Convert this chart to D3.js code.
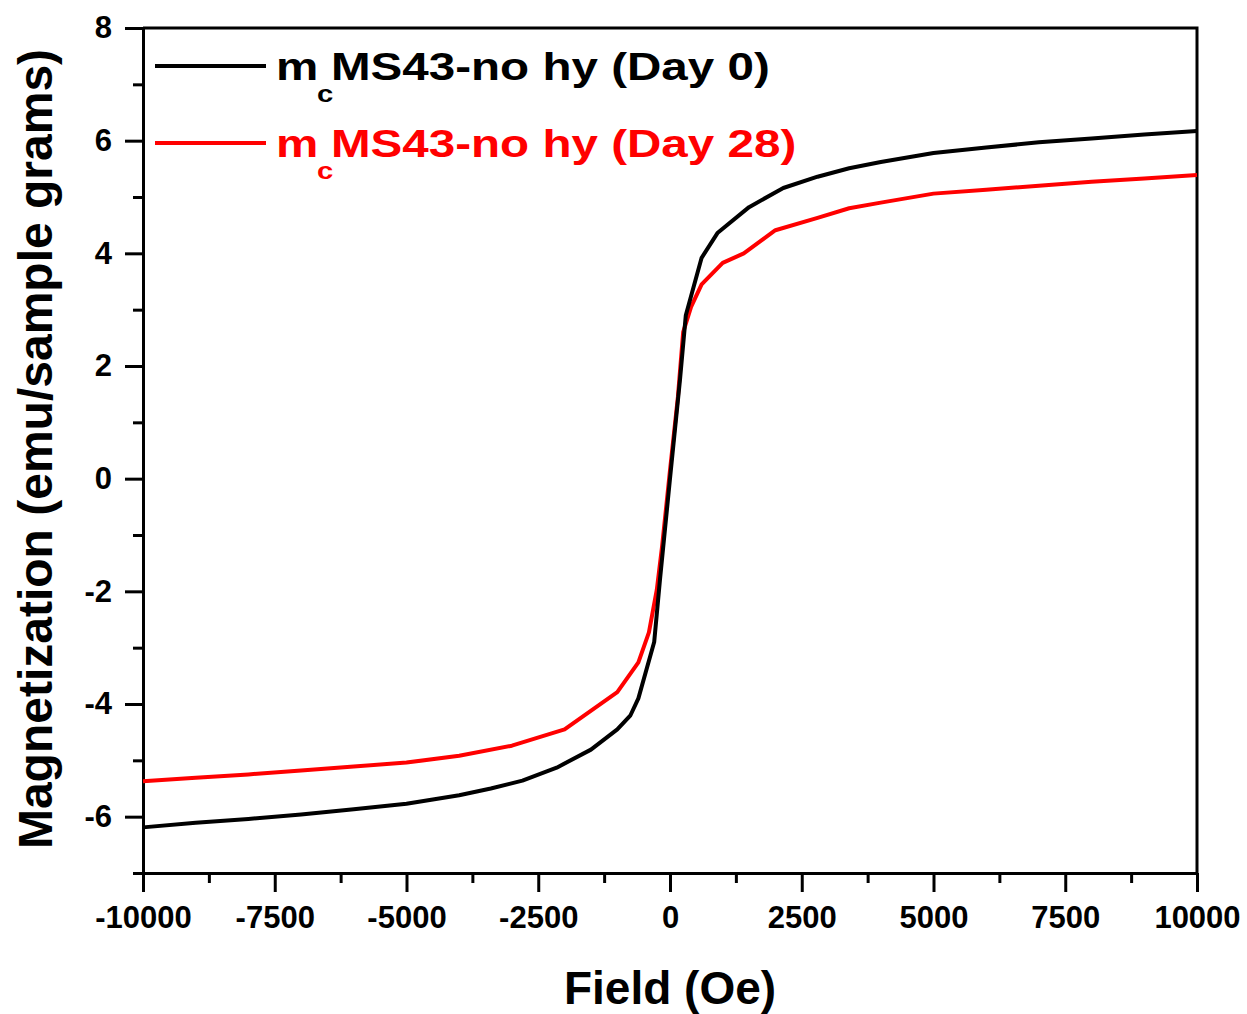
<!DOCTYPE html>
<html>
<head>
<meta charset="utf-8">
<script src="https://cdn.jsdelivr.net/npm/d3@7"></script>
<style>
  html, body { margin: 0; padding: 0; background: #fff; }
  svg { display: block; font-family: "Liberation Sans", Arial, sans-serif; font-weight: bold; }
</style>
</head>
<body>
<svg id="chart" width="1247" height="1014"></svg>
<script>
// Magnetization vs applied field (Oe)
const fieldDay0 = [-10000, -9000, -8000, -7000, -6000, -5000, -4000, -3400, -2800, -2150, -1500, -1000, -750, -600, -300, -190, 0, 190, 300, 600, 900, 1500, 2150, 2800, 3400, 4000, 5000, 6000, 7000, 8000, 9000, 10000];
const magDay0   = [-6.19, -6.11, -6.04, -5.96, -5.87, -5.77, -5.62, -5.50, -5.36, -5.13, -4.81, -4.45, -4.20, -3.90, -2.90, -1.79, 0.0, 1.76, 2.90, 3.92, 4.36, 4.82, 5.16, 5.36, 5.51, 5.62, 5.78, 5.88, 5.97, 6.04, 6.11, 6.17];

const fieldDay28 = [-10000, -9000, -8000, -7000, -6000, -5000, -4000, -3000, -2000, -1000, -600, -400, -250, -150, 0, 150, 250, 400, 600, 1000, 1400, 2000, 2800, 3400, 4000, 5000, 6000, 7000, 8000, 9000, 10000];
const magDay28   = [-5.37, -5.31, -5.25, -5.18, -5.11, -5.04, -4.92, -4.74, -4.45, -3.79, -3.26, -2.73, -1.97, -1.20, 0.15, 1.45, 2.60, 3.05, 3.45, 3.83, 4.00, 4.41, 4.63, 4.80, 4.90, 5.06, 5.13, 5.20, 5.27, 5.33, 5.39];

const xMajorTicks = [-10000, -7500, -5000, -2500, 0, 2500, 5000, 7500, 10000];
const xMinorTicks = [-8750, -6250, -3750, -1250, 1250, 3750, 6250, 8750];
const yMajorTicks = [-6, -4, -2, 0, 2, 4, 6, 8];
const yMinorTicks = [-7, -5, -3, -1, 1, 3, 5, 7];

const seriesNames = ["MS43-no hy (Day 0)", "MS43-no hy (Day 28)"];
const seriesColors = ["#000000", "#ff0000"];

const svg = d3.select("#chart");
const plotLeft = 143, plotRight = 1197, plotTop = 28, plotBottom = 873;

const x = d3.scaleLinear().domain([-10000, 10000]).range([plotLeft, plotRight]);
const y = d3.scaleLinear().domain([-7, 8]).range([plotBottom, plotTop]);

// Plain hyphen-minus for negative tick labels
const plainFormat = d => String(d);

// Frame (top and right edges)
svg.append("path")
  .attr("d", `M${plotLeft},${plotTop}H${plotRight}V${plotBottom}`)
  .attr("fill", "none").attr("stroke", "#000").attr("stroke-width", 3);

function styleAxis(g) {
  g.select(".domain").attr("stroke-width", 3);
  g.selectAll(".tick line").attr("stroke-width", 3);
  g.selectAll(".tick text")
    .attr("font-size", 31).attr("font-weight", "bold")
    .attr("font-family", "'Liberation Sans', Arial, sans-serif").attr("fill", "#000");
}

// X axis: minor then major ticks
svg.append("g").attr("transform", `translate(0,${plotBottom})`)
  .call(d3.axisBottom(x).tickValues(xMinorTicks).tickSize(10).tickFormat(""))
  .call(g => { g.select(".domain").remove(); g.selectAll(".tick line").attr("stroke-width", 3); });
svg.append("g").attr("transform", `translate(0,${plotBottom})`)
  .call(d3.axisBottom(x).tickValues(xMajorTicks).tickSize(19).tickSizeOuter(0).tickPadding(14).tickFormat(plainFormat))
  .call(styleAxis);

// Y axis: minor then major ticks
svg.append("g").attr("transform", `translate(${plotLeft},0)`)
  .call(d3.axisLeft(y).tickValues(yMinorTicks).tickSize(10).tickFormat(""))
  .call(g => { g.select(".domain").remove(); g.selectAll(".tick line").attr("stroke-width", 3); });
svg.append("g").attr("transform", `translate(${plotLeft},0)`)
  .call(d3.axisLeft(y).tickValues(yMajorTicks).tickSize(18).tickSizeOuter(0).tickPadding(13).tickFormat(plainFormat))
  .call(styleAxis);

// Curves: Day 28 underneath, Day 0 on top
const line = d3.line().x(d => x(d[0])).y(d => y(d[1]));
const day28 = fieldDay28.map((f, i) => [f, magDay28[i]]);
const day0 = fieldDay0.map((f, i) => [f, magDay0[i]]);
svg.append("path").datum(day28).attr("d", line)
  .attr("fill", "none").attr("stroke", seriesColors[1]).attr("stroke-width", 4).attr("stroke-linejoin", "round");
svg.append("path").datum(day0).attr("d", line)
  .attr("fill", "none").attr("stroke", seriesColors[0]).attr("stroke-width", 4).attr("stroke-linejoin", "round");

// Axis titles
svg.append("text")
  .attr("x", 670).attr("y", 1004).attr("text-anchor", "middle")
  .attr("font-size", 46).attr("fill", "#000")
  .text("Field (Oe)");
svg.append("text")
  .attr("transform", "translate(52,449) rotate(-90)").attr("text-anchor", "middle")
  .attr("font-size", 48).attr("fill", "#000")
  .text("Magnetization (emu/sample grams)");

// Legend
const legendRows = [{ lineY: 66, base: 80 }, { lineY: 143, base: 157 }];
legendRows.forEach((r, i) => {
  svg.append("line")
    .attr("x1", 155).attr("x2", 266).attr("y1", r.lineY).attr("y2", r.lineY)
    .attr("stroke", seriesColors[i]).attr("stroke-width", 4);
  const t = svg.append("g").attr("transform", `translate(276,${r.base}) scale(1.22,1)`)
    .append("text").attr("x", 0).attr("y", 0)
    .attr("font-size", 39).attr("fill", seriesColors[i]);
  t.append("tspan").text("m");
  t.append("tspan").attr("font-size", 24).attr("dx", -1).attr("dy", 22).text("c");
  t.append("tspan").attr("dx", -2).attr("dy", -22).text(seriesNames[i]);
});
</script>
</body>
</html>
